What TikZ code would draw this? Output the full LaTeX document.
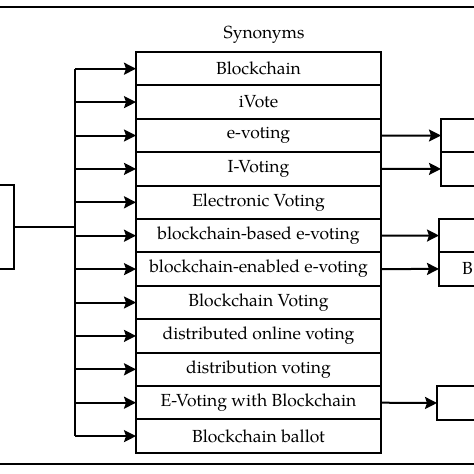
\documentclass[tikz,border=0pt]{standalone}
\usepackage{fontspec}
\setmainfont{TeX Gyre Pagella}
\usetikzlibrary{positioning,arrows.meta}

\begin{document}
\begin{tikzpicture}[x=1pt, y=-1pt, line width=2pt,
    lbl/.style={font=\fontsize{17.5}{20}\selectfont},
    syn/.style={draw, lbl, minimum width=245pt, minimum height=33.4pt, inner sep=0pt, outer sep=0pt},
    side/.style={draw, lbl, anchor=west, minimum width=80pt, minimum height=33.4pt, outer sep=0pt},
    arr/.style={-{Stealth[length=12pt, width=12pt, inset=2pt]}}]
    \useasboundingbox (0,0) rectangle (474,474);

    % rules
    \draw (0,7) -- (474,7);
    \draw (0,464) -- (474,464);

    \node[lbl] (title) at (264,35) {Synonyms};

    \node[syn, anchor=north west] (r1) at (136,52) {Blockchain};
    \node[syn, below=0pt of r1] (r2) {iVote};
    \node[syn, below=0pt of r2] (r3) {e-voting};
    \node[syn, below=0pt of r3] (r4) {I-Voting};
    \node[syn, below=0pt of r4] (r5) {Electronic Voting};
    \node[syn, below=0pt of r5] (r6) {blockchain-based e-voting};
    \node[syn, below=0pt of r6] (r7) {blockchain-enabled e-voting};
    \node[syn, below=0pt of r7] (r8) {Blockchain Voting};
    \node[syn, below=0pt of r8] (r9) {distributed online voting};
    \node[syn, below=0pt of r9] (r10) {distribution voting};
    \node[syn, below=0pt of r10] (r11) {E-Voting with Blockchain};
    \node[syn, below=0pt of r11] (r12) {Blockchain ballot};

    % source box on the left
    \node[draw, anchor=east, minimum width=60pt, minimum height=84pt, outer sep=0pt] (src) at (14,227) {};
    \coordinate (bus) at (75,227);
    \draw (src.east) -- (bus);
    \draw (r1.west -| bus) -- (r12.west -| bus);
    \foreach \i in {1,...,12}
        \draw[arr] (r\i.west -| bus) -- (r\i.west);

    % boxes on the right
    \node[side] (t1) at (441,135.5) {};
    \node[side, below=0pt of t1] (t2) {};
    \node[side] (u1) at (439,235.5) {};
    \node[side, below=0pt of u1, text width=34pt, inner xsep=23pt, align=left] (u2) {B};
    \node[side] (v1) at (437,403) {};

    \draw[arr] (r3.east) -- (t1.west);
    \draw[arr] (r4.east) -- (t2.west);
    \draw[arr] (r6.east) -- (u1.west);
    \draw[arr] (r7.east) -- (u2.west);
    \draw[arr] (r11.east) -- (v1.west);
\end{tikzpicture}
\end{document}
